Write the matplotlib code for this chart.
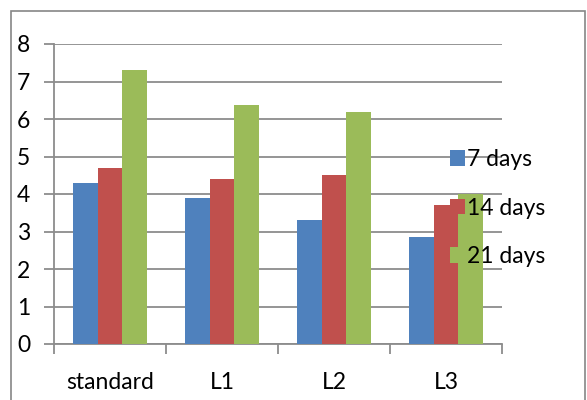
import matplotlib.pyplot as plt
import numpy as np
from matplotlib.patches import Rectangle

categories = ["standard", "L1", "L2", "L3"]
series_names = ["7 days", "14 days", "21 days"]
days7 = [4.3, 3.9, 3.3, 2.85]
days14 = [4.7, 4.4, 4.5, 3.7]
days21 = [7.32, 6.38, 6.18, 4.0]
colors = ["#4F81BD", "#C0504D", "#9BBB59"]

plt.rcParams["font.family"] = ["Lato", "DejaVu Sans"]

W, H = 587, 400
fs = 16.5
fig = plt.figure(figsize=(W / 100, H / 100), dpi=100)
ax = fig.add_axes([54 / W, (H - 344) / H, 448 / W, 300 / H])

# outer chart frame
fig.patches.append(Rectangle((11 / W, -0.05), (585 - 11) / W, (H - 11) / H + 0.05,
                             transform=fig.transFigure, fill=False,
                             edgecolor="#868686", linewidth=1.2, clip_on=False))

x = np.arange(len(categories))
bw = 0.222
for i, (vals, name) in enumerate(zip([days7, days14, days21], series_names)):
    ax.bar(x + (i - 1) * bw, vals, width=bw, color=colors[i], label=name, zorder=3)

ax.set_xlim(-0.5, len(categories) - 0.5)
ax.set_ylim(0, 8)
ax.set_yticks(range(0, 9))
ax.yaxis.grid(True, color="#8c8c8c", linewidth=1.3, zorder=0)
ax.set_axisbelow(True)

ax.set_xticks(x)
ax.set_xticklabels(categories)
ax.set_xticks(np.arange(-0.5, len(categories)), minor=True)
ax.tick_params(axis="x", which="major", length=0, pad=20, labelsize=fs)
ax.tick_params(axis="x", which="minor", length=7, width=1.3, color="#8c8c8c", direction="out")
ax.tick_params(axis="y", length=7, width=1.3, color="#8c8c8c", pad=10, labelsize=fs)

for s in ["top", "right"]:
    ax.spines[s].set_visible(False)
for s in ["left", "bottom"]:
    ax.spines[s].set_color("#8c8c8c")
    ax.spines[s].set_linewidth(1.3)

leg = ax.legend(loc="center left", bbox_to_anchor=(0.884, 0.453), frameon=False,
                fontsize=fs, handlelength=0.65, handleheight=0.65, handletextpad=0.1,
                labelspacing=1.2, borderpad=0, borderaxespad=0)
leg.set_zorder(5)

fig.savefig("out.png", dpi=100)
